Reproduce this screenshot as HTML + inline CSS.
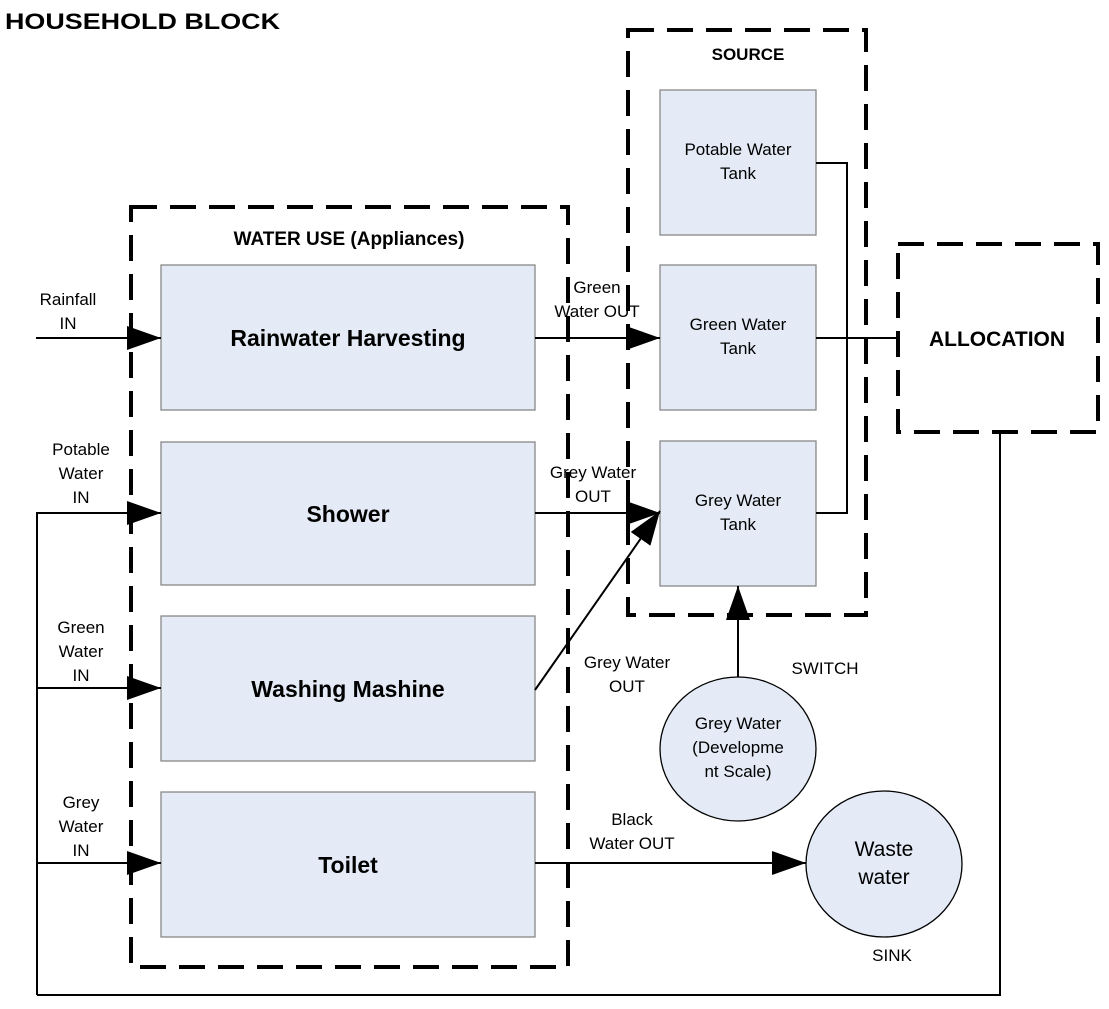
<!DOCTYPE html>
<html><head><meta charset="utf-8"><style>html,body{margin:0;padding:0;background:#fff}svg{display:block}</style></head>
<body>
<svg width="1109" height="1009" viewBox="0 0 1109 1009" xmlns="http://www.w3.org/2000/svg" font-family="Liberation Sans, Arial, sans-serif">
<defs>
<marker id="a" markerWidth="34" markerHeight="24" refX="34" refY="12" orient="auto" markerUnits="userSpaceOnUse">
<path d="M0,0 L34,12 L0,24 Z" fill="#000"/>
</marker>
</defs>
<rect width="1109" height="1009" fill="#fff"/>
<text x="5" y="29" font-size="22" font-weight="bold" textLength="275" lengthAdjust="spacingAndGlyphs">HOUSEHOLD BLOCK</text>

<!-- boxes -->
<g fill="#e4ebf6" stroke="#888" stroke-width="1.3">
<rect x="161" y="265" width="374" height="145"/>
<rect x="161" y="442" width="374" height="143"/>
<rect x="161" y="616" width="374" height="145"/>
<rect x="161" y="792" width="374" height="145"/>
<rect x="660" y="90" width="156" height="145"/>
<rect x="660" y="265" width="156" height="145"/>
<rect x="660" y="441" width="156" height="145"/>
<ellipse cx="738" cy="749" rx="78" ry="72" stroke="#000"/>
<ellipse cx="884" cy="864" rx="78" ry="73" stroke="#000"/>
</g>

<!-- dashed containers -->
<g fill="none" stroke="#000" stroke-width="4" stroke-dasharray="26 13">
<rect x="131" y="207" width="437" height="760"/>
<rect x="628" y="30" width="238" height="585"/>
<rect x="898" y="244" width="200" height="188"/>
</g>

<!-- connectors -->
<g stroke="#000" stroke-width="2" fill="none">
<path d="M36,338 H161" marker-end="url(#a)"/>
<path d="M37,995 V513 H161" marker-end="url(#a)"/>
<path d="M37,688 H161" marker-end="url(#a)"/>
<path d="M37,863 H161" marker-end="url(#a)"/>
<path d="M37,995 H1000 V432"/>
<path d="M535,338 H660" marker-end="url(#a)"/>
<path d="M535,513 H660" marker-end="url(#a)"/>
<path d="M535,690 L660,511" marker-end="url(#a)"/>
<path d="M535,863 H806" marker-end="url(#a)"/>
<path d="M738,677 V586" marker-end="url(#a)"/>
<path d="M816,163 H847 V513 H816"/>
<path d="M816,338 H898"/>
</g>

<!-- labels -->
<g font-size="17" text-anchor="middle">
<text x="68" y="305">Rainfall</text><text x="68" y="329">IN</text>
<text x="81" y="455">Potable</text><text x="81" y="479">Water</text><text x="81" y="503">IN</text>
<text x="81" y="633">Green</text><text x="81" y="657">Water</text><text x="81" y="681">IN</text>
<text x="81" y="808">Grey</text><text x="81" y="832">Water</text><text x="81" y="856">IN</text>
<text x="597" y="293">Green</text><text x="597" y="317">Water OUT</text>
<text x="593" y="478">Grey Water</text><text x="593" y="502">OUT</text>
<text x="627" y="668">Grey Water</text><text x="627" y="692">OUT</text>
<text x="632" y="825">Black</text><text x="632" y="849">Water OUT</text>
<text x="738" y="155">Potable Water</text><text x="738" y="179">Tank</text>
<text x="738" y="330">Green Water</text><text x="738" y="354">Tank</text>
<text x="738" y="506">Grey Water</text><text x="738" y="530">Tank</text>
<text x="738" y="729">Grey Water</text><text x="738" y="753">(Developme</text><text x="738" y="777">nt Scale)</text>
<text x="825" y="674">SWITCH</text>
<text x="892" y="961">SINK</text>
</g>
<g font-size="21" text-anchor="middle">
<text x="884" y="856">Waste</text><text x="884" y="884">water</text>
</g>
<g font-weight="bold" text-anchor="middle">
<text x="349" y="245" font-size="19">WATER USE (Appliances)</text>
<text x="748" y="60" font-size="17">SOURCE</text>
<text x="997" y="346" font-size="21">ALLOCATION</text>
<text x="348" y="346" font-size="23">Rainwater Harvesting</text>
<text x="348" y="522" font-size="23">Shower</text>
<text x="348" y="697" font-size="23">Washing Mashine</text>
<text x="348" y="873" font-size="23">Toilet</text>
</g>
</svg>
</body></html>
